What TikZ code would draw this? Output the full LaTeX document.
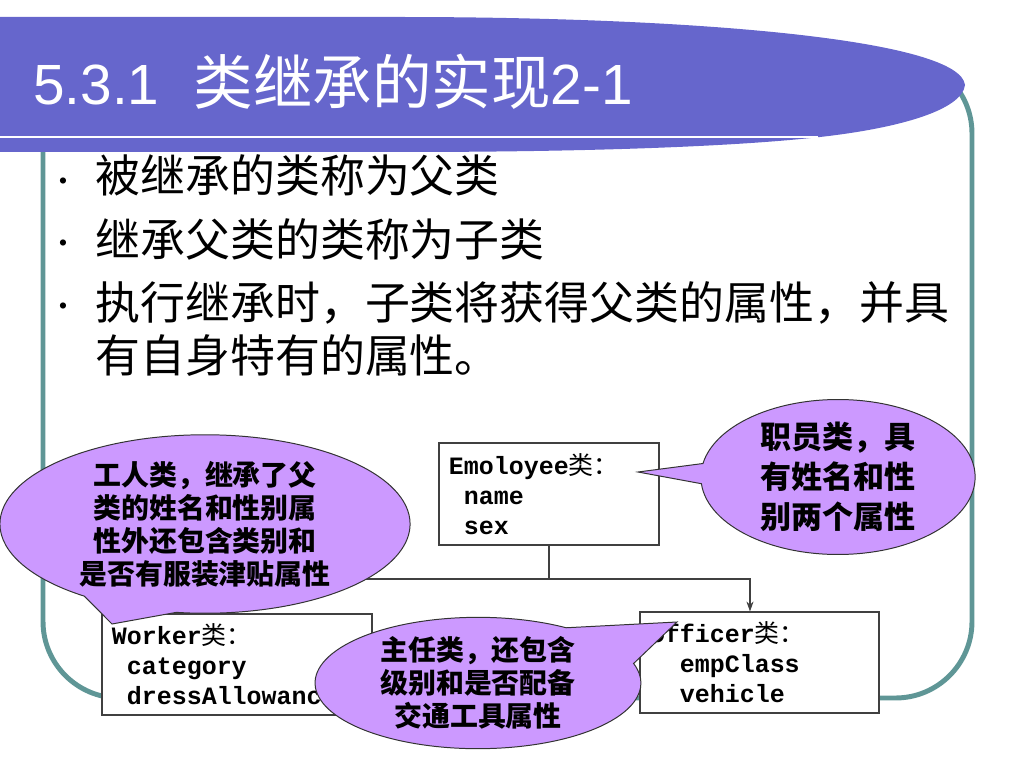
\documentclass[tikz,border=0pt]{standalone}
\usepackage{fontspec}
\setmainfont{Liberation Sans}
\setmonofont{Liberation Mono}
\newfontfamily\cjk{Noto Sans CJK SC}
\usetikzlibrary{arrows.meta}
\usetikzlibrary{shapes.callouts}
\definecolor{bandblue}{RGB}{102,102,204}
\definecolor{frameteal}{RGB}{95,150,150}
\definecolor{notelilac}{RGB}{204,153,255}
\newcommand{\ind}{\hphantom{x}}

\begin{document}
\begin{tikzpicture}[x=0.0248cm,y=-0.0248cm,
  >={Stealth[length=7pt,width=5pt]},semithick,
  cls/.style={draw=black!75,rectangle,line width=0.9pt,fill=white,inner xsep=0.248cm,inner ysep=0pt,align=left,font=\fontsize{17.6}{21.2}\selectfont\ttfamily\bfseries},
  note/.style={ellipse callout,draw=black!80,line width=0.7pt,fill=notelilac,inner sep=0pt,align=center},
  bul/.style={anchor=west,inner sep=0pt,align=left,font=\cjk\fontsize{31.7}{37.4}\selectfont},
  dot/.style={inner sep=0pt,font=\fontsize{16}{16}\selectfont}]
      \useasboundingbox (0,0) rectangle (1024,768);

      \draw[frameteal,line width=3.5pt,rounded corners=54pt] (43,57) rectangle (972,698);
      \fill[bandblue] (0,17) -- (400,17) .. controls (700,17) and (960,40) .. (965,85)
        .. controls (962,110) and (900,128) .. (820,137)
        .. controls (740,146) and (600,152) .. (400,152) -- (0,152) -- cycle;
      \draw[white,line width=2pt] (0,137) -- (818,137);
      \node[anchor=west,inner sep=0pt,text=white,font=\fontsize{40}{40}\selectfont] (title) at (33,82)
        {5.3.1\hspace{0.6em}{\cjk\fontsize{42}{42}\selectfont 类继承的实现}2-1};

      \node[dot] (d1) at (63,183) {\textbullet};
      \node[dot] (d2) at (63,245) {\textbullet};
      \node[dot] (d3) at (63,308) {\textbullet};
      \node[bul] (b1) at (95,175) {被继承的类称为父类};
      \node[bul] (b2) at (95,239) {继承父类的类称为子类};
      \node[bul] (b3) at (95,329) {执行继承时，子类将获得父类的属性，并具\\有自身特有的属性。};

      \node[cls,minimum width=5.46cm,minimum height=2.53cm,text width=4.96cm] (emp) at (549,494)
        {Emoloyee{\cjk\mdseries 类：}\\\ind name\\\ind sex};
      \node[cls,minimum width=6.7cm,minimum height=2.5cm,text width=6.2cm] (wrk) at (237,664.5)
        {Worker{\cjk\mdseries 类：}\\\ind category\\\ind dressAllowance};
      \node[cls,minimum width=5.93cm,minimum height=2.5cm,text width=5.43cm] (off) at (759.5,662.5)
        {Officer{\cjk\mdseries 类：}\\\ind\ind empClass\\\ind\ind vehicle};

      \coordinate (j) at (549,579);
      \draw[black!75,line width=0.9pt] (emp.south) -- (j);
      \draw[black!75,line width=0.9pt,->] (j) -| (wrk.north);
      \draw[black!75,line width=0.9pt,->] (j) -| ([xshift=-0.236cm]off.north);

      \node[note,minimum width=6.8cm,minimum height=3.82cm,callout absolute pointer={(638,472)},
        font=\cjk\bfseries\fontsize{21.9}{28.2}\selectfont] (n1) at (838,477)
        {职员类，具\\有姓名和性\\别两个属性};
      \node[note,minimum width=10.17cm,minimum height=4.36cm,callout absolute pointer={(112,624)},
        callout pointer arc=28,font=\cjk\bfseries\fontsize{19.7}{23.3}\selectfont] (n2) at (205,524)
        {工人类，继承了父\\类的姓名和性别属\\性外还包含类别和\\是否有服装津贴属性};
      \node[note,minimum width=8.08cm,minimum height=2.98cm,callout absolute pointer={(677,622)},
        callout pointer arc=40,font=\cjk\bfseries\fontsize{19.7}{23.3}\selectfont] (n3) at (478,683)
        {主任类，还包含\\级别和是否配备\\交通工具属性};

  \end{tikzpicture}
\end{document}
